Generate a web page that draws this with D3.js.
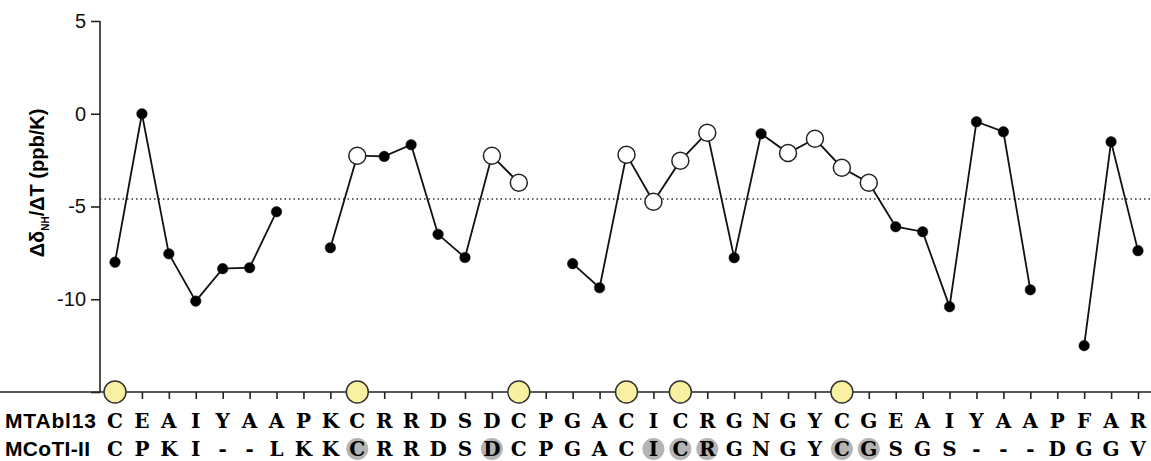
<!DOCTYPE html>
<html>
<head>
<meta charset="utf-8">
<script src="https://cdn.jsdelivr.net/npm/d3@7"></script>
<style>
  body { margin: 0; background: #fff; }
  svg { display: block; }
</style>
</head>
<body>
<div id="chart"></div>
<script>
var mtabl = ["C","E","A","I","Y","A","A","P","K","C","R","R","D","S","D","C","P","G","A","C","I","C","R","G","N","G","Y","C","G","E","A","I","Y","A","A","P","F","A","R"];
var mcoti = ["C","P","K","I","-","-","L","K","K","C","R","R","D","S","D","C","P","G","A","C","I","C","R","G","N","G","Y","C","G","S","G","S","-","-","-","D","G","G","V"];
// temperature coefficients, null = no amide (Pro)
var values = [-8.0, 0.0, -7.55, -10.1, -8.35, -8.3, -5.28, null, -7.22, -2.26, -2.3, -1.67, -6.5, -7.75, -2.26, -3.72, null,
  -8.08, -9.38, -2.21, -4.74, -2.53, -1.02, -7.76, -1.08, -2.12, -1.35, -2.91, -3.72, -6.09, -6.36, -10.4, -0.43, -0.97, -9.49, null,
  -12.5, -1.51, -7.38];
// 1 = open circle
var openPts = [0,0,0,0,0,0,0,0,0,1,0,0,0,0,1,1,0,0,0,1,1,1,1,0,0,1,1,1,1,0,0,0,0,0,0,0,0,0,0];
var cysPos = [1, 10, 16, 20, 22, 28];
var greyPos = [10, 15, 21, 22, 23, 28, 29];
var threshold = -4.6;
var yTicks = [5, 0, -5, -10, -15];

var width = 1151, height = 461;
var sans = "Arial, 'Liberation Sans', sans-serif";
var seqFont = "'DejaVu Serif', 'Liberation Mono', serif";

var svg = d3.select("#chart").append("svg")
    .attr("width", width)
    .attr("height", height);

var x = d3.scaleLinear().domain([1, 39]).range([115, 1138]);
var y = d3.scaleLinear().domain([-15, 5]).range([392, 21]);

// y axis
var yAxis = d3.axisLeft(y).tickValues(yTicks).tickSize(9).tickPadding(5)
    .tickFormat(d => d == -15 ? "" : d);
svg.append("g")
    .attr("transform", "translate(100,0)")
    .call(yAxis)
    .call(g => g.select(".domain").attr("stroke", "#222").attr("stroke-width", 1.6).attr("d", "M0," + y(5) + "V" + y(-15)))
    .call(g => g.selectAll(".tick line").attr("stroke", "#222").attr("stroke-width", 1.6))
    .call(g => g.selectAll(".tick text").attr("fill", "#111")
        .style("font-family", sans).style("font-size", "20px"));

// x axis
var xAxis = d3.axisBottom(x).tickValues(d3.range(1, 40)).tickSize(7).tickFormat("");
svg.append("g")
    .attr("transform", "translate(0," + y(-15) + ")")
    .call(xAxis)
    .call(g => g.select(".domain").attr("stroke", "#222").attr("stroke-width", 1.6).attr("d", "M-10,0H" + width))
    .call(g => g.selectAll(".tick line").attr("stroke", "#222").attr("stroke-width", 1.6));

// y title
var yt = svg.append("text")
    .attr("transform", "translate(44,183) rotate(-90)")
    .attr("text-anchor", "middle")
    .style("font-family", sans)
    .style("font-size", "20px")
    .style("font-weight", "bold");
yt.append("tspan").text("Δδ");
yt.append("tspan").attr("dy", 5).style("font-size", "10px").text("NH");
yt.append("tspan").attr("dy", -5).text("/ΔT  (ppb/K)");

// threshold
svg.append("line")
    .attr("x1", 100).attr("x2", width)
    .attr("y1", y(threshold)).attr("y2", y(threshold))
    .attr("stroke", "#333").attr("stroke-width", 1.5)
    .attr("stroke-dasharray", "1.5,3");

// data
var pts = values.map((v, i) => ({ pos: i + 1, v: v, open: openPts[i] }));
var line = d3.line()
    .defined(d => d.v !== null)
    .x(d => x(d.pos)).y(d => y(d.v));
svg.append("path")
    .datum(pts)
    .attr("fill", "none")
    .attr("stroke", "#111")
    .attr("stroke-width", 1.8)
    .attr("d", line);

svg.selectAll("circle.pt")
    .data(pts.filter(d => d.v !== null))
    .enter().append("circle")
    .attr("class", "pt")
    .attr("cx", d => x(d.pos))
    .attr("cy", d => y(d.v))
    .attr("r", d => d.open ? 8.5 : 5.3)
    .attr("fill", d => d.open ? "#fff" : "#000")
    .attr("stroke", "#222")
    .attr("stroke-width", d => d.open ? 1.5 : 0.5);

// cysteines
svg.selectAll("circle.cys")
    .data(cysPos)
    .enter().append("circle")
    .attr("class", "cys")
    .attr("cx", d => x(d))
    .attr("cy", y(-15))
    .attr("r", 11)
    .attr("fill", "#f8f1a2")
    .attr("stroke", "#333")
    .attr("stroke-width", 1.5);

// sequences
var row1 = 428, row2 = 456;
svg.selectAll("circle.grey")
    .data(greyPos)
    .enter().append("circle")
    .attr("class", "grey")
    .attr("cx", d => x(d))
    .attr("cy", row2 - 7)
    .attr("r", 11)
    .attr("fill", "#b4b4b4");

[["MTAbl13", row1], ["MCoTI-II", row2]].forEach(function(r) {
    svg.append("text")
        .attr("x", 5).attr("y", r[1])
        .style("font-family", sans).style("font-size", "21px").style("font-weight", "bold")
        .attr("textLength", r[0] == "MTAbl13" ? 91 : 85)
        .text(r[0]);
});

[[mtabl, row1], [mcoti, row2]].forEach(function(r, k) {
    svg.selectAll("text.row" + k)
        .data(r[0])
        .enter().append("text")
        .attr("class", "row" + k)
        .attr("x", (d, i) => x(i + 1))
        .attr("y", r[1])
        .attr("text-anchor", "middle")
        .style("font-family", seqFont)
        .style("font-size", "20px")
        .style("font-weight", "bold")
        .text(d => d);
});
</script>
</body>
</html>
